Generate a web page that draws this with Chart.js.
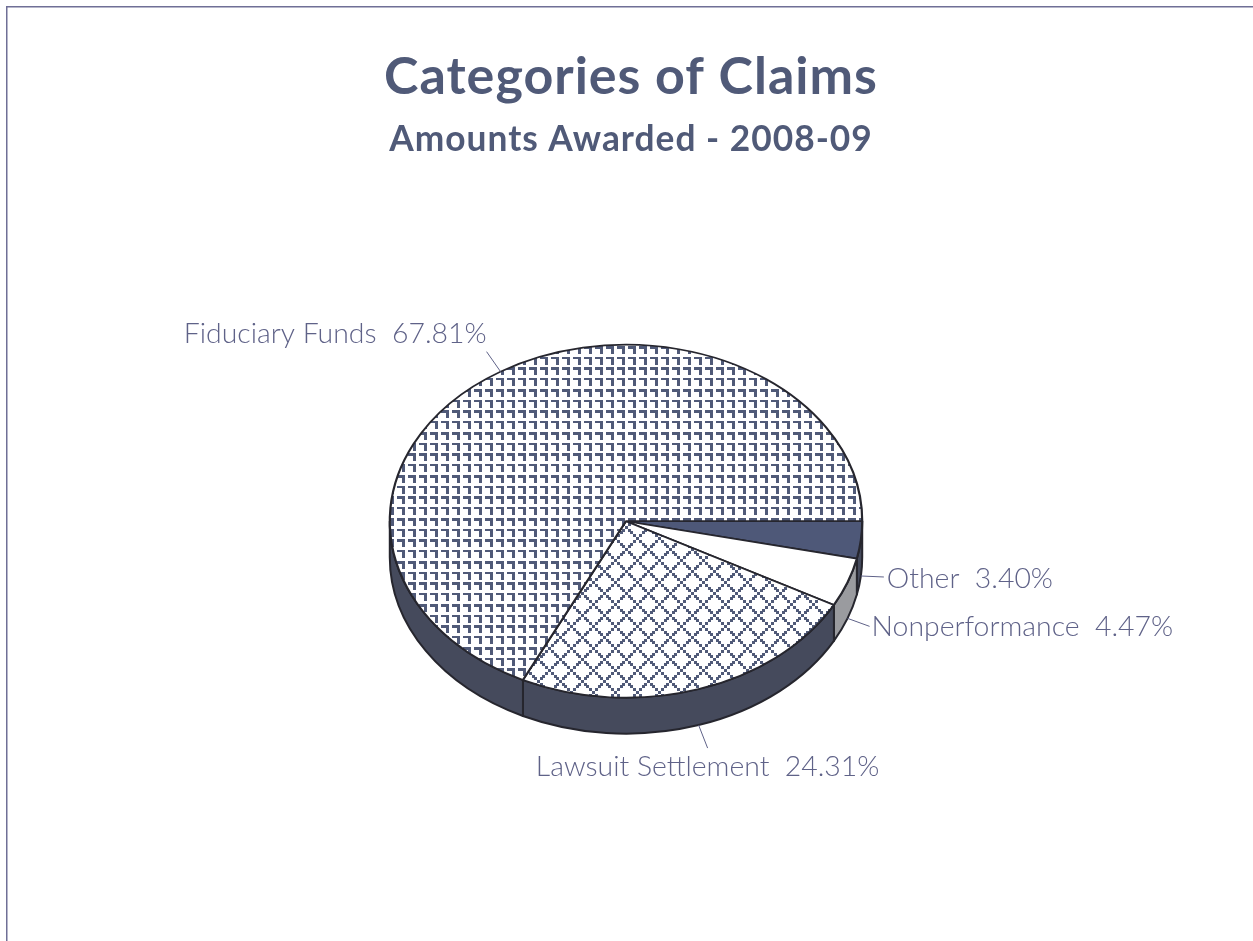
<!DOCTYPE html>
<html><head><meta charset="utf-8">
<style>html,body{margin:0;padding:0;background:#fff;overflow:hidden}#w{position:absolute;left:0;top:0;width:1253px;height:941px}</style>
<script src="https://cdn.jsdelivr.net/npm/chart.js@4"></script>
</head><body><div id="w"><canvas id="c" width="1253" height="941"></canvas></div>
<script>
const categories = ["Other", "Nonperformance", "Lawsuit Settlement", "Fiduciary Funds"];
const values = [3.40, 4.47, 24.31, 67.81];
const titleText = "Categories of Claims";
const subtitleText = "Amounts Awarded - 2008-09";

const INK = "#505a78", LABEL = "#5f6288", OUTLINE = "#26262e";
const TILT = 0.747, DEPTH = 36, TITLE_SHIFT = 5;
const sideColors = ["#454a5c", "#9a9b9f", "#454a5c", "#454a5c"];
const leaderEnds = [[23, 1, "left", 3, 2], [22, 8, "left", 2, 0], [9, 23, "center", 0, 19], [-14, -20, "right", 0, -18]];

function tile(w, h, draw) {
  const c = document.createElement("canvas"); c.width = w; c.height = h;
  const x = c.getContext("2d"); x.fillStyle = "#fff"; x.fillRect(0, 0, w, h); x.fillStyle = INK; draw(x);
  return x.createPattern(c, "repeat");
}
const hookPattern = tile(11, 43, x => {
  [[0, 2], [11, 3], [22, 2], [32, 3]].forEach(([y, t]) => { x.fillRect(0, y, 8, t); x.fillRect(5, y, 3, 8); });
});
const latticePattern = tile(22, 22, x => {
  [0, 3, 6, 8, 11, 14, 16, 19].forEach(p => {
    x.fillRect(p, p, 3, 3);
    const q = (22 - p) % 22;
    x.fillRect(q, p, 3, 3);
    if (q + 3 > 22) x.fillRect(q - 22, p, 3, 3);
    if (p + 3 > 22) { x.fillRect(p, p - 22, 3, 3); x.fillRect(q, p - 22, 3, 3); }
  });
});

const pie3d = {
  id: "pie3d",
  beforeDraw(chart) {
    const ctx = chart.ctx; ctx.save(); ctx.fillStyle = "#6f6f96";
    ctx.fillRect(6, 6, chart.width, 1.5); ctx.fillRect(6, 6, 1.5, chart.height); ctx.restore();
    ctx.save(); ctx.translate(TITLE_SHIFT, 0); ctx.letterSpacing = "1px";
  },
  beforeDatasetsDraw(chart) {
    const ctx = chart.ctx, arcs = chart.getDatasetMeta(0).data; ctx.restore();
    const a0 = arcs[0], cx = a0.x, cy = a0.y, rx = a0.outerRadius, ry = rx * TILT;
    ctx.save(); ctx.lineWidth = 2; ctx.strokeStyle = OUTLINE; ctx.lineJoin = "round";
    arcs.forEach((a, i) => {
      const s = Math.max(a.startAngle, 0), e = Math.min(a.endAngle, Math.PI);
      if (e <= s) return;
      ctx.beginPath();
      ctx.ellipse(cx, cy + DEPTH, rx, ry, 0, s, e);
      ctx.ellipse(cx, cy, rx, ry, 0, e, s, true);
      ctx.closePath(); ctx.fillStyle = sideColors[i]; ctx.fill(); ctx.stroke();
    });
    ctx.restore();
    const inv = new DOMMatrix().translate(cx, cy).scale(1, 1 / TILT).translate(-cx, -cy);
    hookPattern.setTransform(inv.translate(1, 34));
    latticePattern.setTransform(inv.translate(20, 9));
    ctx.save(); ctx.imageSmoothingEnabled = false;
    ctx.translate(cx, cy); ctx.scale(1, TILT); ctx.translate(-cx, -cy);
  },
  afterDatasetsDraw(chart) {
    const ctx = chart.ctx, arcs = chart.getDatasetMeta(0).data; ctx.restore();
    const a0 = arcs[0], cx = a0.x, cy = a0.y, rx = a0.outerRadius, ry = rx * TILT;
    ctx.save(); ctx.font = '300 28.4px Lato'; ctx.fillStyle = LABEL; ctx.strokeStyle = LABEL; ctx.lineWidth = 1;
    arcs.forEach((a, i) => {
      const m = (a.startAngle + a.endAngle) / 2, sn = Math.sin(m);
      const px = cx + rx * Math.cos(m), py = cy + ry * sn + (sn > 0 ? DEPTH : 0);
      const [dx, dy, align, tx, ty] = leaderEnds[i];
      ctx.beginPath(); ctx.moveTo(px, py); ctx.lineTo(px + dx, py + dy); ctx.stroke();
      ctx.textAlign = align; ctx.textBaseline = "middle";
      ctx.fillText(categories[i] + "  " + values[i].toFixed(2) + "%", px + dx + tx, py + dy + ty);
    });
    ctx.restore();
  }
};

new Chart(document.getElementById("c"), {
  type: "pie",
  plugins: [pie3d],
  data: { labels: categories, datasets: [{
    data: values,
    backgroundColor: ["#4e5878", "#ffffff", latticePattern, hookPattern],
    borderColor: OUTLINE, borderWidth: 2.2
  }]},
  options: {
    responsive: false, animation: false, rotation: 90,
    layout: { padding: { left: 0, right: 1, top: 0, bottom: 182.5 } },
    plugins: {
      legend: { display: false }, tooltip: { enabled: false },
      title: { display: true, text: titleText, color: INK, font: { family: "Lato", size: 52, weight: "bold" }, padding: { top: 45.8, bottom: 3 } },
      subtitle: { display: true, text: subtitleText, color: INK, font: { family: "Lato", size: 35.3, weight: "bold" }, padding: { top: 7.4, bottom: 122.9 } }
    }
  }
});
</script></body></html>
